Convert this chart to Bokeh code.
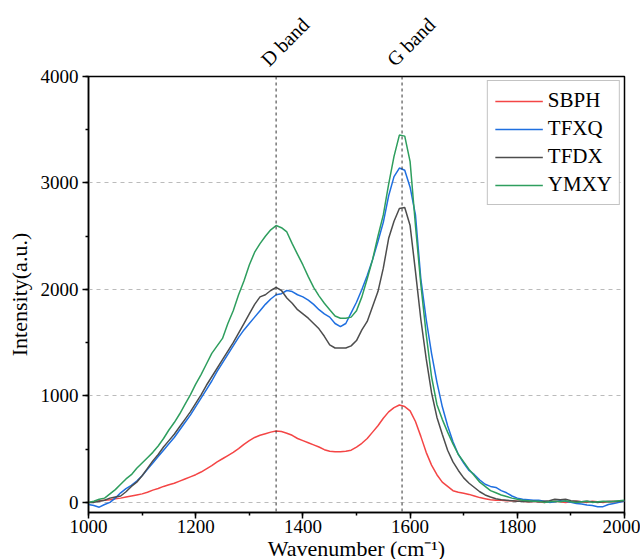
import math
from bokeh.plotting import figure
from bokeh.models import Range1d, Span, Legend, LegendItem, FixedTicker, LinearAxis
from bokeh.embed import file_html
from bokeh.resources import INLINE

wavenumber = list(range(1000, 2001, 10))

sbph = [0, 5, 15, 20, 25, 35, 40, 50, 60, 70,
        80, 95, 115, 130, 150, 165, 180, 200, 220, 240,
        260, 285, 315, 345, 380, 410, 440, 470, 505, 545,
        580, 610, 630, 645, 660, 670, 665, 650, 630, 600,
        580, 560, 540, 520, 495, 480, 475, 475, 480, 490,
        520, 555, 600, 660, 720, 790, 850, 890, 915, 900,
        860, 760, 620, 470, 350, 260, 190, 150, 110, 95,
        85, 75, 60, 45, 35, 25, 20, 20, 15, 15,
        10, 10, 5, 10, 5, 0, 5, 10, 5, 0,
        5, 10, 5, 0, 10, 5, 0, 5, 10, 5, 10]

tfxq = [-20, -30, -45, -20, 0, 40, 90, 130, 160, 200,
        250, 310, 370, 430, 490, 550, 610, 680, 750, 820,
        900, 980, 1060, 1140, 1230, 1310, 1390, 1470, 1550, 1620,
        1680, 1740, 1800, 1860, 1910, 1950, 1960, 1990, 1980, 1950,
        1930, 1900, 1860, 1810, 1770, 1740, 1680, 1650, 1680, 1780,
        1880, 2000, 2130, 2280, 2450, 2630, 2880, 3060, 3140, 3120,
        2960, 2700, 2100, 1720, 1400, 1130, 900, 720, 570, 450,
        370, 300, 260, 210, 170, 150, 140, 110, 90, 60,
        40, 30, 25, 20, 20, 10, 0, 5, 15, 10,
        0, -10, -15, -25, -30, -40, -40, -20, -10, 0, 10]

tfdx = [0, 0, 10, 20, 40, 50, 60, 100, 150, 190,
        250, 320, 390, 450, 520, 580, 640, 710, 780, 850,
        930, 1010, 1100, 1180, 1260, 1340, 1420, 1500, 1590, 1680,
        1770, 1860, 1930, 1950, 1990, 2020, 1990, 1920, 1870, 1810,
        1770, 1730, 1680, 1630, 1560, 1480, 1450, 1450, 1450, 1470,
        1520, 1620, 1700, 1840, 1980, 2200, 2480, 2640, 2760, 2770,
        2600, 2170, 1720, 1350, 1030, 800, 640, 490, 380, 300,
        230, 180, 140, 100, 70, 50, 35, 25, 20, 15,
        10, 10, 5, 10, 5, 10, 15, 30, 25, 30,
        15, 10, 5, 10, 5, 0, 5, 10, 5, 10, 15]

ymxy = [0, 10, 30, 40, 80, 120, 170, 220, 260, 320,
        370, 420, 470, 530, 600, 680, 750, 830, 920, 1010,
        1110, 1200, 1300, 1400, 1470, 1540, 1680, 1800, 1950, 2080,
        2230, 2350, 2430, 2500, 2560, 2600, 2580, 2540, 2430, 2330,
        2230, 2120, 2020, 1940, 1870, 1810, 1750, 1730, 1730, 1740,
        1800, 1930, 2100, 2280, 2500, 2700, 2990, 3250, 3450, 3440,
        3200, 2600, 2050, 1580, 1180, 920, 780, 660, 550, 450,
        380, 310, 250, 190, 150, 110, 90, 70, 55, 40,
        30, 20, 15, 10, 10, 0, 5, 10, 5, 15,
        5, 0, 5, 10, 0, 5, 10, 5, 10, 15, 20]

names = ["SBPH", "TFXQ", "TFDX", "YMXY"]
colors = ["#F44545", "#1F6FE0", "#4D4D4D", "#2E9E5E"]
band_positions = [1350, 1585]
band_labels = ["D band", "G band"]

FONT = "Liberation Serif"

p = figure(frame_width=536, frame_height=436, output_backend="svg", toolbar_location=None,
           x_range=Range1d(1000, 2000), y_range=Range1d(-95, 4000),
           min_border_left=88, min_border_right=16, min_border_top=76, min_border_bottom=40)
p.background_fill_color = "white"
p.border_fill_color = "white"
p.outline_line_color = "black"
p.outline_line_width = 1.5

p.xgrid.visible = False
p.ygrid.grid_line_color = "#BBBBBB"
p.ygrid.grid_line_dash = "4 4"
p.ygrid.grid_line_width = 1

p.xaxis.ticker = FixedTicker(ticks=list(range(1000, 2001, 200)),
                             minor_ticks=list(range(1000, 2001, 100)))
p.yaxis.ticker = FixedTicker(ticks=list(range(0, 4001, 1000)),
                             minor_ticks=list(range(0, 4001, 500)))

for ax in (p.xaxis[0], p.yaxis[0]):
    ax.axis_line_color = "black"
    ax.axis_line_width = 1.5
    ax.major_tick_in = 0
    ax.major_tick_out = 6
    ax.minor_tick_in = 0
    ax.minor_tick_out = 3
    ax.major_tick_line_width = 1.5
    ax.minor_tick_line_width = 1.5
    ax.major_label_text_font = FONT
    ax.major_label_text_font_size = "19px"
    ax.major_label_text_color = "black"
    ax.axis_label_text_font = FONT
    ax.axis_label_text_font_size = "22px"
    ax.axis_label_text_font_style = "normal"
    ax.axis_label_text_color = "black"

p.xaxis.axis_label = "Wavenumber (cm\u207b\u00b9)"
p.yaxis.axis_label = "Intensity(a.u.)"
p.xaxis.axis_label_standoff = 0
p.yaxis.axis_label_standoff = 6
p.xaxis.major_label_standoff = 1
p.yaxis.major_label_standoff = 4

for loc in band_positions:
    p.add_layout(Span(location=loc, dimension="height", line_color="#333333",
                      line_dash="3 3", line_width=1))

# band names as a tick-less axis above the frame, nudged left of each band line
label_ticks = [b - 22 for b in band_positions]
top = LinearAxis(ticker=FixedTicker(ticks=label_ticks, minor_ticks=[]),
                 major_label_overrides={k: v for k, v in zip(label_ticks, band_labels)})
top.axis_line_alpha = 0
top.major_tick_line_alpha = 0
top.minor_tick_line_alpha = 0
top.major_tick_out = 0
top.major_tick_in = 0
top.major_label_orientation = math.pi / 4
top.major_label_text_font = FONT
top.major_label_text_font_size = "20px"
top.major_label_text_color = "black"
top.major_label_standoff = 14
p.add_layout(top, "above")

items = []
for name, col, ys in zip(names, colors, [sbph, tfxq, tfdx, ymxy]):
    r = p.line(wavenumber, ys, line_color=col, line_width=1.5)
    items.append(LegendItem(label=name, renderers=[r]))

legend = Legend(items=items, location="top_right")
legend.label_text_font = FONT
legend.label_text_font_size = "21px"
legend.label_text_color = "black"
legend.border_line_color = "#888888"
legend.border_line_width = 1.5
legend.background_fill_alpha = 1
legend.glyph_width = 48
legend.glyph_height = 22
legend.label_height = 22
legend.spacing = 3
legend.padding = 7
legend.margin = 4
legend.label_standoff = 5
p.add_layout(legend)

open("out.html", "w").write(file_html(p, INLINE))
